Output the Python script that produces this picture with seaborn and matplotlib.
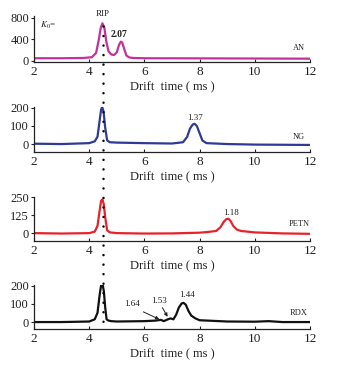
"""
离子迁移谱图: AN / NG / PETN / RDX 四个样品的漂移时间谱
"""
import matplotlib
matplotlib.use('Agg')
import matplotlib.pyplot as plt
from matplotlib.lines import Line2D
import seaborn as sns

# ==================== 数据 ====================
an_x = [2.0, 3.0, 3.8, 4.1, 4.25, 4.35, 4.42, 4.48, 4.55, 4.62, 4.7, 4.8, 4.9,
        5.0, 5.08, 5.15, 5.2, 5.27, 5.35, 5.45, 5.6, 6.0, 8.0, 10.0, 12.0]
an_y = [50, 50, 55, 70, 150, 400, 620, 700, 620, 360, 180, 120, 110,
        160, 300, 360, 340, 220, 100, 65, 55, 50, 48, 45, 42]

ng_x = [2.0, 3.0, 4.0, 4.2, 4.3, 4.37, 4.43, 4.47, 4.52, 4.58, 4.65, 4.75, 5.0,
        6.0, 7.0, 7.4, 7.55, 7.65, 7.75, 7.82, 7.9, 8.0, 8.1, 8.25, 9.0, 10.0, 12.0]
ng_y = [2, 0, 5, 15, 40, 120, 190, 205, 180, 90, 20, 10, 8,
        5, 3, 10, 40, 85, 108, 112, 100, 60, 20, 5, 0, -3, -5]

petn_x = [2.0, 3.0, 4.0, 4.2, 4.3, 4.38, 4.43, 4.48, 4.53, 4.58, 4.65, 4.75, 5.0,
          6.0, 7.0, 8.0, 8.3, 8.6, 8.75, 8.88, 8.97, 9.05, 9.12, 9.22, 9.35, 9.5,
          10.0, 11.0, 12.0]
petn_y = [0, -3, 0, 10, 50, 160, 225, 235, 200, 110, 20, 5, 0,
          -3, -2, 3, 8, 15, 40, 80, 98, 100, 85, 50, 25, 15,
          5, -2, -5]

rdx_x = [2.0, 3.0, 4.0, 4.2, 4.3, 4.38, 4.43, 4.48, 4.53, 4.58, 4.63, 4.7, 4.8,
         5.0, 6.0, 6.4, 6.6, 6.7, 6.85, 6.95, 7.05, 7.15, 7.25, 7.35, 7.42, 7.5,
         7.6, 7.7, 7.85, 8.0, 9.0, 10.0, 10.5, 11.0, 12.0]
rdx_y = [0, 0, 3, 15, 50, 150, 200, 210, 170, 80, 15, 8, 5,
         3, 5, 8, 12, 5, 15, 20, 15, 40, 80, 102, 105, 95,
         60, 35, 20, 10, 3, 2, 5, 0, 0]

names = ['AN', 'NG', 'PETN', 'RDX']
colors = ['#c2319c', '#2f3a98', '#e8222a', '#111111']
y_ticks = [[0, 400, 800], [0, 100, 200], [0, 125, 250], [0, 100, 200]]
y_lims = [(-20, 837), (-44, 205), (-55, 252), (-38, 203)]
x_ticks = [2, 4, 6, 8, 10, 12]
rip_time = 4.5

# ==================== 全局配置 ====================
sns.set_style('ticks')
plt.rcParams['font.family'] = ['Liberation Serif', 'DejaVu Serif']
plt.rcParams['mathtext.fontset'] = 'stix'
TEXT_COLOR = '#222222'

fig = plt.figure(figsize=(3.5, 3.75), dpi=100)

# 每个子图的位置 (left, bottom, width, height), 按像素换算
positions = [
    (34 / 350, 1 - 62 / 375, 276 / 350, 46 / 375),
    (34 / 350, 1 - 152 / 375, 276 / 350, 45 / 375),
    (34 / 350, 1 - 241 / 375, 276 / 350, 44 / 375),
    (34 / 350, 1 - 329 / 375, 276 / 350, 44 / 375),
]
series = [(an_x, an_y), (ng_x, ng_y), (petn_x, petn_y), (rdx_x, rdx_y)]

axes = []
for i, (pos, (xs, ys)) in enumerate(zip(positions, series)):
    ax = fig.add_axes(pos)
    sns.lineplot(x=xs, y=ys, color=colors[i], linewidth=1.6, ax=ax)
    ax.set_xlim(2, 12)
    ax.set_ylim(*y_lims[i])
    ax.set_xticks(x_ticks)
    ax.set_yticks(y_ticks[i])
    sns.despine(ax=ax)
    for s in ['left', 'bottom']:
        ax.spines[s].set_linewidth(0.9)
        ax.spines[s].set_color(TEXT_COLOR)
    ax.tick_params(axis='x', direction='in', length=2.5, width=0.8,
                   labelsize=9.5, pad=3, colors=TEXT_COLOR)
    ax.tick_params(axis='y', direction='out', length=2.5, width=0.8,
                   labelsize=9, pad=1, colors=TEXT_COLOR)
    ax.set_xlabel('Drift  time ( ms )', fontsize=9, labelpad=2, color=TEXT_COLOR)
    ax.text(11.6, [236, 37, 67, 50][i], names[i], fontsize=6,
            ha='center', va='center', color=TEXT_COLOR)
    axes.append(ax)

# 标注
ax1, ax2, ax3, ax4 = axes
ax1.text(4.5, 870, 'RIP', fontsize=6.5, ha='center', va='center',
         color=TEXT_COLOR, clip_on=False)
ax1.text(2.5, 670, '$K_0$=', fontsize=6.5, ha='center', va='center', color=TEXT_COLOR)
ax1.text(5.1, 484, '2.07', fontsize=7, fontweight='bold', ha='center',
         va='center', color=TEXT_COLOR)
ax2.text(7.83, 146, '1.37', fontsize=6.5, ha='center', va='center', color=TEXT_COLOR)
ax3.text(9.14, 137, '1.18', fontsize=6.5, ha='center', va='center', color=TEXT_COLOR)
ax4.text(7.55, 150, '1.44', fontsize=6.5, ha='center', va='center', color=TEXT_COLOR)
ax4.text(5.54, 101, '1.64', fontsize=6.5, ha='center', va='center', color=TEXT_COLOR)
ax4.text(6.54, 118, '1.53', fontsize=6.5, ha='center', va='center', color=TEXT_COLOR)
ax4.annotate('', xy=(6.54, 15), xytext=(5.96, 56),
             arrowprops=dict(arrowstyle='-|>', lw=0.7, color=TEXT_COLOR,
                             mutation_scale=5, shrinkA=0, shrinkB=0))
ax4.annotate('', xy=(6.84, 29), xytext=(6.65, 79),
             arrowprops=dict(arrowstyle='-|>', lw=0.7, color=TEXT_COLOR,
                             mutation_scale=5, shrinkA=0, shrinkB=0))

# RIP 位置的贯穿点线 (数据坐标 -> 图坐标)
to_fig = fig.transFigure.inverted()
top = to_fig.transform(ax1.transData.transform((rip_time, 650)))
bottom = to_fig.transform(ax4.transData.transform((rip_time, 0)))
dots = Line2D([top[0], bottom[0]], [top[1], bottom[1]], transform=fig.transFigure,
              color='black', linewidth=1.8, linestyle=(0, (0.01, 3.8)),
              dash_capstyle='round', zorder=5)
fig.add_artist(dots)

plt.savefig('out.png', dpi=100)
plt.close('all')
